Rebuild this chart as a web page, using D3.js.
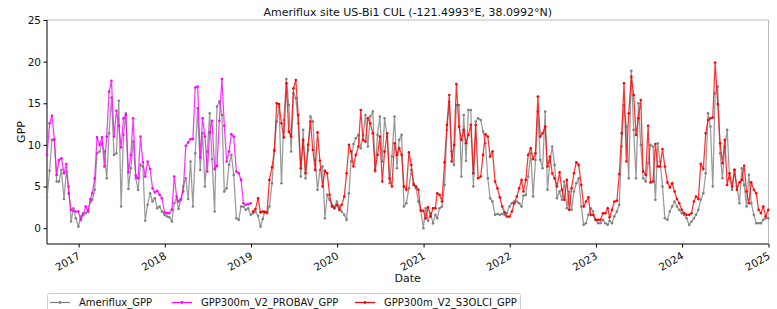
<!DOCTYPE html>
<html>
<head>
<meta charset="utf-8">
<script src="https://cdn.jsdelivr.net/npm/d3@7"></script>
<style>
  body { margin: 0; background: #fff; }
  text { font-family: "DejaVu Sans", sans-serif; fill: #111; }
</style>
</head>
<body>
<script>
// dekadal series, one value per dekad (10th, 20th, last day of month), first dekad ends 2016-08-20
let ameriflux = [
  3.7, 6.9, 10.6, 10.6, 5.6, 5.6, 7.0, 3.5, 6.8, 5.0, 0.8, 2.4, 1.2, 0.2, // 2016
  1.4, 1.8, 1.8, 2.2, 3.2, 3.4, 4.6, 9.0, 9.2, 10.2, 9.2, 6.0, 11.4, 15.7, 8.8, 9.0, 15.3, 2.6,
  11.2, 13.8, 4.7, 7.2, 10.4, 6.0, 4.6, 7.6, 7.4, 0.9, 2.8, 4.2, 3.2, 3.6, 2.4, 2.6, 2.0, 1.6, // 2017
  1.4, 1.3, 0.8, 3.0, 3.5, 2.3, 3.4, 5.0, 6.0, 3.5, 8.0, 2.6, 9.0, 14.4, 7.0, 11.4, 5.0, 9.2,
  13.8, 8.3, 2.0, 14.6, 15.2, 13.6, 4.4, 4.8, 7.6, 8.8, 6.4, 1.2, 1.0, 2.6, 2.6, 2.2, 2.4, 1.6, // 2018
  1.8, 2.0, 1.5, 0.2, 1.1, 2.0, 1.8, 2.6, 5.4, 9.4, 12.8, 14.6, 5.4, 13.0, 17.9, 14.8, 9.2, 16.2,
  15.6, 12.6, 6.2, 11.8, 6.0, 9.4, 13.4, 12.8, 8.2, 4.6, 7.0, 7.4, 1.2, 4.0, 3.4, 2.8, 2.6, 3.2, // 2019
  2.6, 2.0, 1.6, 1.0, 4.2, 8.0, 10.1, 10.8, 11.2, 9.6, 11.2, 13.6, 9.8, 13.4, 14.0, 6.8, 11.2, 13.4,
  8.0, 13.2, 11.0, 5.4, 8.6, 13.4, 7.2, 10.6, 11.2, 2.6, 3.0, 4.8, 7.0, 5.4, 4.8, 3.2, 2.2, 0.0, // 2020
  2.4, 0.9, 1.8, 0.6, 1.6, 1.2, 2.4, 2.6, 5.2, 11.8, 15.2, 9.2, 7.6, 14.8, 14.8, 6.2, 13.6, 8.1,
  14.2, 14.2, 5.0, 12.8, 13.2, 13.0, 11.6, 10.2, 6.0, 3.6, 3.2, 1.6, 1.7, 1.6, 1.7, 1.6, 1.8, 2.6, // 2021
  3.0, 3.2, 3.2, 3.0, 2.6, 3.9, 4.0, 6.2, 9.0, 3.8, 8.2, 14.0, 8.2, 7.2, 14.0, 4.6, 8.0, 9.8,
  7.6, 3.6, 4.4, 3.4, 5.6, 2.4, 4.4, 2.2, 4.4, 5.4, 6.0, 2.6, 0.4, 0.6, 1.6, 2.4, 2.0, 1.0, // 2022
  0.6, 0.6, 1.0, 0.6, 0.4, 0.9, 0.6, 1.4, 2.0, 2.8, 9.8, 14.8, 12.2, 6.0, 18.9, 11.8, 6.0, 15.0,
  10.0, 6.0, 5.6, 7.8, 10.0, 9.8, 3.4, 10.2, 8.0, 5.0, 1.2, 1.0, 2.0, 2.6, 3.2, 2.6, 2.2, 1.8, // 2023
  1.6, 1.2, 0.4, 0.8, 1.2, 1.6, 2.2, 3.4, 4.2, 6.6, 13.8, 12.2, 5.0, 16.2, 17.0, 9.0, 6.0, 9.8,
  11.8, 6.0, 4.6, 7.0, 5.0, 3.0, 7.2, 5.2, 2.6, 6.4, 3.0, 1.6, 0.6, 0.6, 0.6, 1.0, 1.2, 1.2 // 2024
];

// PROBA-V product, 2016-08-20 .. 2018-12-31
let probav = [
  8.8, 12.6, 13.5, 10.7, 6.4, 8.2, 8.4, 6.6, 7.7, 4.2, 2.2, 2.1, 2.0, 2.0,
  1.0, 1.6, 2.6, 2.0, 3.5, 4.2, 6.0, 10.9, 10.0, 10.9, 7.4, 11.0, 16.4, 17.7, 11.0, 14.1, 12.3, 9.7,
  13.2, 13.6, 6.7, 8.8, 13.2, 6.3, 6.0, 11.0, 7.9, 6.2, 8.0, 7.1, 4.8, 4.3, 4.5, 4.0, 3.6, 1.9,
  1.8, 1.8, 2.2, 6.2, 3.8, 3.2, 3.5, 4.4, 9.9, 10.3, 10.7, 10.7, 16.9, 17.0, 8.5, 13.2, 11.0, 6.8,
  11.5, 12.9, 7.1, 7.5, 12.9, 17.9, 12.3, 8.0, 9.2, 11.3, 11.0, 6.8, 6.6, 5.8, 3.0, 2.8, 2.9, 3.0
];

// Sentinel-3 OLCI product, 2019-01-10 .. 2024-12-31
let s3olci = [
  2.0, 2.3, 3.6, 1.9, 2.0, 1.9, 1.9, 5.8, 7.3, 9.3, 15.0, 14.9, 12.6, 10.9, 17.4, 11.6, 11.0, 16.8,
  17.8, 13.6, 7.2, 10.6, 6.6, 10.0, 12.8, 9.4, 7.0, 11.5, 8.1, 5.0, 6.9, 6.6, 4.0, 2.6, 2.4, 2.8, // 2019
  2.2, 2.8, 3.8, 6.6, 10.0, 9.2, 7.4, 8.8, 9.8, 14.2, 10.6, 10.4, 13.2, 12.6, 11.4, 7.0, 8.8, 11.0,
  5.6, 9.2, 11.4, 6.0, 5.0, 10.2, 8.8, 9.6, 8.8, 5.0, 4.6, 9.1, 7.6, 5.2, 5.0, 4.6, 2.1, 2.1, // 2020
  1.2, 2.5, 1.4, 2.4, 2.4, 4.2, 4.0, 3.2, 7.9, 12.4, 16.0, 8.0, 10.0, 17.3, 12.2, 10.6, 11.8, 10.2,
  11.2, 12.4, 6.6, 12.4, 6.0, 6.2, 8.8, 11.3, 11.0, 8.6, 9.2, 5.6, 4.8, 3.7, 2.6, 1.9, 1.4, 1.4, // 2021
  2.0, 3.0, 3.8, 4.8, 5.8, 4.4, 5.8, 8.8, 9.6, 8.3, 9.0, 15.8, 11.0, 11.4, 12.2, 7.4, 8.6, 6.6,
  6.0, 5.0, 6.7, 4.6, 3.4, 5.8, 2.2, 4.8, 6.6, 7.9, 7.6, 5.2, 2.6, 3.2, 3.7, 1.6, 1.6, 1.0, // 2022
  1.0, 1.0, 1.8, 1.8, 2.4, 1.3, 2.2, 3.2, 3.3, 6.5, 11.4, 17.4, 8.0, 13.8, 18.2, 16.0, 11.2, 13.2,
  15.4, 6.8, 6.4, 12.3, 5.5, 5.6, 10.1, 7.4, 7.4, 9.5, 7.4, 5.5, 4.9, 5.4, 4.4, 3.5, 3.0, 2.2, // 2023
  1.8, 1.6, 1.6, 1.8, 3.2, 3.8, 3.5, 7.7, 7.1, 11.4, 13.0, 13.2, 13.3, 19.9, 14.9, 10.2, 7.8, 10.6,
  5.2, 6.6, 5.0, 7.0, 4.6, 5.5, 5.8, 7.5, 4.4, 3.0, 5.5, 4.6, 4.2, 2.2, 1.8, 2.6, 1.4, 2.2 // 2024
];

let s3Offset = 86; // index of first OLCI dekad (2019-01-10)
let yTicks = [0, 5, 10, 15, 20, 25];
let yearTicks = [2017, 2018, 2019, 2020, 2021, 2022, 2023, 2024, 2025];

// dekad end dates
let dates = [];
{
  let y = 2016, m = 7, k = 1;
  while (dates.length < ameriflux.length) {
    let day = k === 0 ? 10 : k === 1 ? 20 : new Date(Date.UTC(y, m + 1, 0)).getUTCDate();
    dates.push(new Date(Date.UTC(y, m, day)));
    k++;
    if (k === 3) { k = 0; m++; if (m === 12) { m = 0; y++; } }
  }
}

let width = 777, height = 309;
let margin = { top: 20, right: 8.5, bottom: 65, left: 47 };

let svg = d3.select('body').append('svg')
  .attr('width', width)
  .attr('height', height);

let x = d3.scaleUtc()
  .domain([dates[0], new Date(Date.UTC(2025, 0, 1))])
  .range([margin.left, width - margin.right]);

let y = d3.scaleLinear()
  .domain([-1.9, 25])
  .range([height - margin.bottom, margin.top]);

// axes
let xAxis = svg.append('g')
  .attr('transform', `translate(0,${height - margin.bottom})`)
  .call(d3.axisBottom(x)
    .tickValues(yearTicks.map(yr => new Date(Date.UTC(yr, 0, 1))))
    .tickFormat(d3.utcFormat('%Y'))
    .tickSizeOuter(0)
    .tickSize(3.5));
xAxis.select('.domain').remove();
xAxis.selectAll('text')
  .style('font-size', '10.5px')
  .attr('text-anchor', 'end')
  .attr('dy', null)
  .attr('y', 0)
  .attr('transform', 'translate(2,14) rotate(-30)');

let yAxis = svg.append('g')
  .attr('transform', `translate(${margin.left},0)`)
  .call(d3.axisLeft(y).tickValues(yTicks).tickSize(3.5).tickSizeOuter(0));
yAxis.select('.domain').remove();
yAxis.selectAll('text').style('font-size', '10.5px').attr('x', -6);

// frame
let x0 = margin.left, x1 = width - margin.right, y0 = margin.top, y1 = height - margin.bottom;
svg.append('line').attr('x1', x0).attr('x2', x1).attr('y1', y0).attr('y2', y0).attr('stroke', '#bbb');
svg.append('line').attr('x1', x1).attr('x2', x1).attr('y1', y0).attr('y2', y1).attr('stroke', '#bbb');
svg.append('line').attr('x1', x0).attr('x2', x0).attr('y1', y0).attr('y2', y1).attr('stroke', '#000');
svg.append('line').attr('x1', x0).attr('x2', x1).attr('y1', y1).attr('y2', y1).attr('stroke', '#000');

// series
let series = [
  { name: 'Ameriflux_GPP', color: '#808080', values: ameriflux, offset: 0 },
  { name: 'GPP300m_V2_PROBAV_GPP', color: '#ff00ff', values: probav, offset: 0 },
  { name: 'GPP300m_V2_S3OLCI_GPP', color: '#ff0000', values: s3olci, offset: s3Offset }
];

let line = d3.line()
  .x(d => x(d.date))
  .y(d => y(d.v));

let plot = svg.append('g');
series.forEach(s => {
  let pts = s.values.map((v, i) => ({ date: dates[i + s.offset], v: v }));
  plot.append('path')
    .datum(pts)
    .attr('fill', 'none')
    .attr('stroke', s.color)
    .attr('stroke-opacity', 0.8)
    .attr('stroke-width', 1.25)
    .attr('d', line);
  plot.selectAll(null)
    .data(pts)
    .enter()
    .append('circle')
    .attr('cx', d => x(d.date))
    .attr('cy', d => y(d.v))
    .attr('r', 1.3)
    .attr('fill', s.color);
});

// labels
svg.append('text')
  .attr('x', (x0 + x1) / 2).attr('y', 16)
  .attr('text-anchor', 'middle')
  .style('font-size', '11px')
  .text('Ameriflux site US-Bi1 CUL (-121.4993°E, 38.0992°N)');

svg.append('text')
  .attr('x', (x0 + x1) / 2).attr('y', 282)
  .attr('text-anchor', 'middle')
  .style('font-size', '11px')
  .text('Date');

svg.append('text')
  .attr('transform', `translate(25,${(y0 + y1) / 2}) rotate(-90)`)
  .attr('text-anchor', 'middle')
  .style('font-size', '11px')
  .text('GPP');

// legend
let legend = svg.append('g');
legend.append('rect')
  .attr('x', 47.5).attr('y', 293.5)
  .attr('width', 473).attr('height', 30)
  .attr('rx', 2)
  .attr('fill', '#fff')
  .attr('stroke', '#ccc');

let legendX = [50, 172, 355];
series.forEach((s, i) => {
  let g = legend.append('g').attr('transform', `translate(${legendX[i]},302.5)`);
  g.append('line').attr('x1', 0).attr('x2', 20).attr('stroke', s.color).attr('stroke-width', 1.2);
  g.append('circle').attr('cx', 10).attr('r', 1.4).attr('fill', s.color);
  g.append('text').attr('x', 29).attr('y', 3.8).style('font-size', '10px').text(s.name);
});
</script>
</body>
</html>
